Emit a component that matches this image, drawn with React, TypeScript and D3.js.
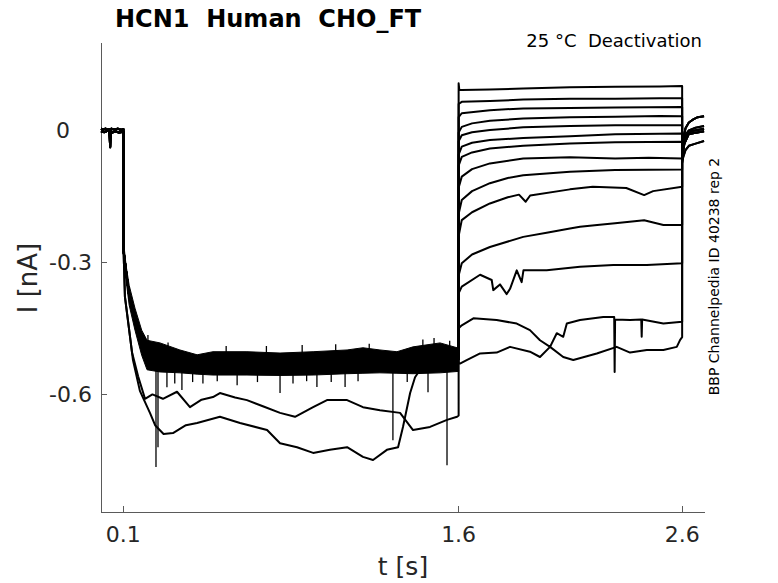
import React from 'react';
import * as d3 from 'd3';

type Pt = [number, number];

const W = 778;
const H = 583;

const xTicks = [0.1, 1.6, 2.6];
const yTicks = [-0.6, -0.3, 0];

// holding level before the step (two noisy copies)
const baseA: Pt[] = [[0, 0.004], [0.01, 0.002], [0.02, 0.004], [0.03, 0.001], [0.036, 0.003], [0.039, -0.015], [0.041, -0.038], [0.043, -0.01], [0.046, 0.004], [0.06, 0.002], [0.075, 0.004], [0.09, 0.001], [0.1, 0.003]];
const baseB: Pt[] = [[0, -0.002], [0.015, -0.004], [0.03, -0.001], [0.05, -0.005], [0.065, -0.002], [0.08, -0.005], [0.1, -0.003]];

// activation step: envelope of the noisy bundle
const bandT = [0.1, 0.112, 0.126, 0.152, 0.182, 0.206, 0.264, 0.353, 0.43, 0.501, 0.653, 0.801, 0.949, 1.101, 1.172, 1.248, 1.324, 1.396, 1.517, 1.593, 1.6];
const bandUpper = [-0.249, -0.306, -0.352, -0.404, -0.454, -0.477, -0.483, -0.499, -0.51, -0.503, -0.503, -0.506, -0.503, -0.499, -0.494, -0.499, -0.503, -0.492, -0.483, -0.494, -0.494];
const bandLower = [-0.302, -0.34, -0.397, -0.454, -0.511, -0.544, -0.549, -0.551, -0.554, -0.556, -0.556, -0.557, -0.556, -0.553, -0.552, -0.551, -0.552, -0.553, -0.551, -0.548, -0.548];
const bandMid: Pt[] = [[0.1, -0.27], [0.112, -0.32], [0.126, -0.375], [0.152, -0.43], [0.182, -0.48], [0.206, -0.51], [0.264, -0.516], [0.353, -0.525], [0.5, -0.53], [0.8, -0.532], [1.1, -0.527], [1.4, -0.524], [1.52, -0.517], [1.6, -0.52]];

// noise spikes out of the bundle (downward, then upward)
const spikesDown: Pt[] = [[0.246, -0.765], [0.255, -0.72], [0.295, -0.584], [0.33, -0.575], [0.362, -0.59], [0.41, -0.572], [0.456, -0.575], [0.52, -0.57], [0.609, -0.579], [0.7, -0.572], [0.801, -0.597], [0.859, -0.575], [0.92, -0.57], [0.966, -0.583], [1.03, -0.572], [1.092, -0.583], [1.15, -0.57], [1.306, -0.704], [1.37, -0.572], [1.463, -0.595], [1.548, -0.761]];
const spikesUp: Pt[] = [[0.21, -0.465], [0.3, -0.482], [0.56, -0.49], [0.74, -0.49], [0.9, -0.488], [1.05, -0.486], [1.2, -0.485], [1.44, -0.475], [1.49, -0.472], [1.56, -0.478]];

// the two sweeps that run below the bundle
const hyperA: Pt[] = [[0.1, -0.249], [0.107, -0.378], [0.139, -0.505], [0.166, -0.559], [0.197, -0.61], [0.23, -0.6], [0.277, -0.61], [0.34, -0.594], [0.398, -0.629], [0.45, -0.612], [0.501, -0.606], [0.532, -0.597], [0.6, -0.607], [0.653, -0.613], [0.73, -0.628], [0.801, -0.642], [0.868, -0.651], [0.949, -0.629], [1.011, -0.613], [1.101, -0.613], [1.172, -0.629], [1.248, -0.636], [1.338, -0.642], [1.396, -0.681], [1.472, -0.674], [1.548, -0.658], [1.593, -0.651], [1.6, -0.648]];
const hyperB: Pt[] = [[0.1, -0.249], [0.107, -0.378], [0.143, -0.522], [0.174, -0.592], [0.219, -0.642], [0.242, -0.67], [0.28, -0.69], [0.322, -0.688], [0.38, -0.67], [0.43, -0.665], [0.532, -0.651], [0.622, -0.665], [0.743, -0.681], [0.801, -0.711], [0.877, -0.72], [0.949, -0.733], [1.024, -0.726], [1.101, -0.72], [1.172, -0.742], [1.217, -0.749], [1.279, -0.726], [1.329, -0.72], [1.351, -0.674], [1.383, -0.597], [1.405, -0.561], [1.45, -0.527], [1.6, -0.522]];

// deactivation tails, top to bottom
const tail1: Pt[] = [[1.6, 0.107], [1.603, 0.092], [1.614, 0.092], [1.74, 0.093], [1.889, 0.095], [2.098, 0.098], [2.3, 0.099], [2.5, 0.1], [2.6, 0.101]];
const tail2: Pt[] = [[1.6, 0.06], [1.614, 0.065], [1.74, 0.067], [1.889, 0.07], [2.098, 0.072], [2.3, 0.072], [2.5, 0.073], [2.6, 0.073]];
const tail3: Pt[] = [[1.6, 0.03], [1.614, 0.039], [1.74, 0.046], [1.889, 0.05], [2.098, 0.051], [2.3, 0.052], [2.6, 0.053]];
const tail4: Pt[] = [[1.6, -0.005], [1.614, 0.008], [1.66, 0.016], [1.74, 0.022], [1.889, 0.027], [2.098, 0.03], [2.3, 0.031], [2.5, 0.033], [2.6, 0.032]];
const tail5: Pt[] = [[1.6, -0.025], [1.614, -0.011], [1.66, -0.004], [1.74, 0.001], [1.889, 0.007], [2.098, 0.01], [2.3, 0.012], [2.6, 0.012]];
const tail6: Pt[] = [[1.6, -0.055], [1.614, -0.037], [1.66, -0.028], [1.74, -0.022], [1.889, -0.017], [2.098, -0.013], [2.3, -0.009], [2.6, -0.007]];
const tail7: Pt[] = [[1.6, -0.08], [1.614, -0.06], [1.66, -0.05], [1.74, -0.041], [1.889, -0.035], [2.098, -0.03], [2.3, -0.027], [2.6, -0.026]];
const tail8: Pt[] = [[1.6, -0.13], [1.614, -0.105], [1.66, -0.088], [1.74, -0.075], [1.889, -0.064], [2.098, -0.061], [2.3, -0.064], [2.45, -0.062], [2.6, -0.064]];
const tail9: Pt[] = [[1.6, -0.19], [1.614, -0.158], [1.66, -0.138], [1.74, -0.12], [1.82, -0.108], [1.889, -0.102], [2.098, -0.094], [2.3, -0.09], [2.6, -0.089]];
const tail10: Pt[] = [[1.6, -0.24], [1.614, -0.204], [1.66, -0.186], [1.74, -0.166], [1.82, -0.152], [1.87, -0.146], [1.9, -0.162], [1.92, -0.148], [2.098, -0.134], [2.2, -0.128], [2.35, -0.131], [2.43, -0.147], [2.47, -0.138], [2.6, -0.128]];
const tail11: Pt[] = [[1.6, -0.33], [1.614, -0.302], [1.66, -0.282], [1.74, -0.265], [1.889, -0.242], [2.0, -0.232], [2.098, -0.223], [2.143, -0.219], [2.22, -0.215], [2.3, -0.211], [2.43, -0.204], [2.516, -0.215], [2.6, -0.215]];
const tail12: Pt[] = [[1.6, -0.37], [1.614, -0.355], [1.696, -0.328], [1.748, -0.34], [1.755, -0.363], [1.785, -0.35], [1.815, -0.372], [1.83, -0.36], [1.86, -0.318], [1.882, -0.345], [1.89, -0.318], [1.994, -0.318], [2.143, -0.31], [2.292, -0.306], [2.442, -0.306], [2.6, -0.302]];
const tail13: Pt[] = [[1.6, -0.45], [1.614, -0.443], [1.666, -0.427], [1.77, -0.431], [1.86, -0.439], [1.919, -0.454], [1.964, -0.477], [2.009, -0.492], [2.039, -0.461], [2.068, -0.469], [2.084, -0.439], [2.143, -0.431], [2.247, -0.424], [2.296, -0.424], [2.298, -0.549], [2.3, -0.43], [2.367, -0.431], [2.417, -0.43], [2.419, -0.469], [2.421, -0.43], [2.516, -0.439], [2.6, -0.435]];
const tail14: Pt[] = [[1.6, -0.53], [1.606, -0.53], [1.636, -0.522], [1.696, -0.507], [1.77, -0.505], [1.83, -0.492], [1.919, -0.503], [1.964, -0.515], [2.009, -0.492], [2.068, -0.515], [2.113, -0.522], [2.218, -0.507], [2.307, -0.492], [2.367, -0.505], [2.442, -0.499], [2.516, -0.499], [2.576, -0.492], [2.591, -0.476], [2.6, -0.47]];
const tails = [tail1, tail2, tail3, tail4, tail5, tail6, tail7, tail8, tail9, tail10, tail11, tail12, tail13, tail14];

// recovery after the last step
const retHigh: Pt[] = [[2.6, -0.045], [2.605, -0.02], [2.615, 0.005], [2.63, 0.018], [2.65, 0.025], [2.67, 0.03], [2.698, 0.032]];
const retMid1: Pt[] = [[2.6, -0.05], [2.605, -0.03], [2.615, -0.01], [2.63, 0.0], [2.66, 0.006], [2.698, 0.01]];
const retMid2: Pt[] = [[2.6, -0.055], [2.605, -0.035], [2.62, -0.012], [2.64, -0.002], [2.698, 0.004]];
const retMid3: Pt[] = [[2.6, -0.06], [2.61, -0.03], [2.63, -0.008], [2.698, -0.002]];
const retLow: Pt[] = [[2.6, -0.075], [2.605, -0.06], [2.615, -0.045], [2.63, -0.035], [2.66, -0.03], [2.698, -0.024]];
const returns = [retHigh, retHigh, retHigh, retMid1, retMid1, retMid2, retMid2, retMid2, retMid3, retMid3, retMid3, retMid3, retLow, retLow];

const x = d3.scaleLinear().domain([0, 2.7]).range([101, 704.5]);
const y = d3.scaleLinear().domain([-0.868, 0.198]).range([512.3, 43.3]);

const line = d3.line<Pt>().x(d => x(d[0])).y(d => y(d[1]));
const bandArea = d3.area<number>()
  .x(i => x(bandT[i]))
  .y0(i => y(bandLower[i]))
  .y1(i => y(bandUpper[i]));

const sweeps: Pt[][] = tails.map((tail, i) => {
  const base = i % 2 === 0 ? baseA : baseB;
  const hyper = i === 12 ? hyperA : i === 13 ? hyperB : bandMid;
  return [...base, ...hyper, ...tail, ...returns[i]];
});

const font = 'DejaVu Sans, sans-serif';
const axisColor = '#5a5a5a';
const labelColor = '#262626';

export default function App() {
  const [x0, x1] = x.range();
  const [y0, y1] = y.range();
  return (
    <svg width={W} height={H} style={{ position: 'absolute', left: 0, top: 0, background: '#fff' }} fontFamily={font}>
      <rect width={W} height={H} fill="#fff" />
      {/* axes */}
      <g stroke={axisColor} strokeWidth={1} shapeRendering="crispEdges">
        <line x1={x0} x2={x0} y1={y1} y2={y0} />
        <line x1={x0} x2={x1} y1={y0} y2={y0} />
        {xTicks.map(t => <line key={t} x1={x(t)} x2={x(t)} y1={y0} y2={y0 - 6} />)}
        {yTicks.map(t => <line key={t} x1={x0} x2={x0 + 6} y1={y(t)} y2={y(t)} />)}
      </g>
      <g fill={labelColor} fontSize={22}>
        {xTicks.map(t => (
          <text key={t} x={x(t)} y={541.5} textAnchor="middle">{String(t)}</text>
        ))}
        {yTicks.map(t => (
          <text key={t} x={t === 0 ? 70 : 92} y={y(t)} textAnchor="end" dominantBaseline="central">
            {String(t)}
          </text>
        ))}
      </g>
      <text x={403} y={575} fontSize={25} textAnchor="middle" fill={labelColor}>t [s]</text>
      <text transform="translate(37,278) rotate(-90)" fontSize={26} textAnchor="middle" fill={labelColor}>I [nA]</text>

      {/* traces */}
      <path d={bandArea(d3.range(bandT.length)) || ''} fill="#000" stroke="#000" strokeWidth={1} />
      <g stroke="#000" strokeWidth={1.3} fill="none">
        {spikesDown.map((s, i) => (
          <path key={'d' + i} d={line([[s[0], -0.545], s]) || ''} />
        ))}
        {spikesUp.map((s, i) => (
          <path key={'u' + i} d={line([[s[0], -0.51], s]) || ''} />
        ))}
      </g>
      <g stroke="#000" strokeWidth={2} fill="none" strokeLinejoin="round">
        {sweeps.map((s, i) => <path key={i} d={line(s) || ''} />)}
      </g>

      {/* titles */}
      <text x={115} y={27} fontSize={24} fontWeight="bold" fill="#000" style={{ whiteSpace: 'pre' }}>HCN1  Human  CHO_FT</text>
      <text x={702} y={46.5} fontSize={18} textAnchor="end" fill="#000" style={{ whiteSpace: 'pre' }}>25 °C  Deactivation</text>
      <text transform="translate(719,276.5) rotate(-90)" fontSize={14} textAnchor="middle" fill="#000">BBP Channelpedia ID 40238 rep 2</text>
    </svg>
  );
}
